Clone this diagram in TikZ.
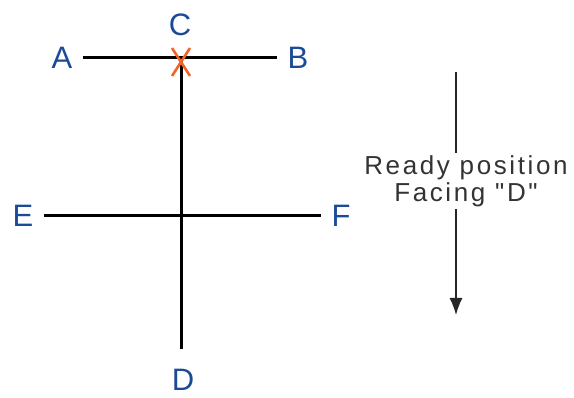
\documentclass[tikz,border=0pt]{standalone}
\usepackage{fontspec}
\setmainfont{Liberation Sans}
\newfontfamily\readyfont{Liberation Sans}[Ligatures=TeXOff, LetterSpace=10]
\usetikzlibrary{arrows.meta}

\definecolor{labelblue}{RGB}{28,74,150}
\definecolor{crossorange}{RGB}{240,100,40}

\tikzset{
  point/.style={text=labelblue, font=\fontsize{31}{31}\selectfont, inner sep=10pt},
  bar/.style={line width=3pt, black},
}

\begin{document}
\begin{tikzpicture}[x=1pt, y=-1pt]
      \useasboundingbox (0,0) rectangle (574,398);
%      \draw [help lines, opacity=0.3, step=20] (0,0) grid (574,398);
      \node [point] (a) at (62,58) {A};
      \node [point] (b) at (298,58) {B};
      \node [point] (c) at (180,25) {C};
      \node [point] (e) at (23,216) {E};
      \node [point] (f) at (341,216) {F};
      \node [point] (d) at (183,380) {D};
      \coordinate (cross) at (181,58);

      \draw [bar] (a) -- (b);
      \draw [bar] (e) -- (f);
      \draw [bar] (cross) -- ([yshift=10pt]d.north -| cross);

      % the mark at C
      \draw [crossorange, line width=2.6pt] (172,48) -- (190,76) (190,48) -- (172,76);

      % ready position arrow
      \node [align=center, font=\readyfont\fontsize{26}{27}\selectfont, text=black!80, inner sep=2pt] (ready) at (466,181) {Ready position\\Facing "D"};
      \coordinate (top) at (456,72);
      \coordinate (bottom) at (456,315);
      \draw [line width=1.3pt, black!85] (top) -- (ready.north -| top);
      \draw [line width=1.3pt, black!85, -{Latex[length=17pt, width=13pt]}] (ready.south -| top) -- (bottom);
\end{tikzpicture}
\end{document}
